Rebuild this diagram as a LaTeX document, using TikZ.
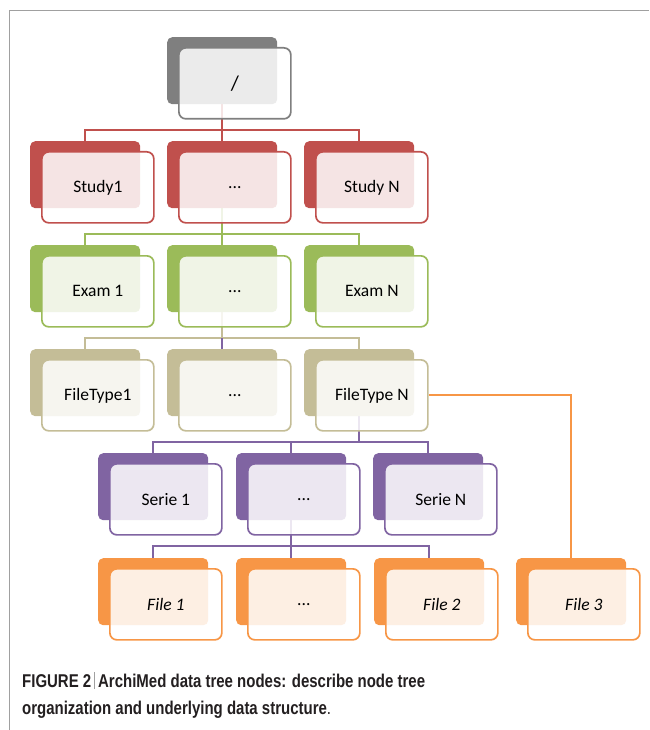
\documentclass[tikz,border=0pt]{standalone}
\usepackage{fontspec}
\setmainfont{Carlito}
\newfontfamily\capfont[FakeStretch=0.81]{Liberation Sans}
\usetikzlibrary{calc,backgrounds}
\definecolor{cgray}{HTML}{7F7F7F}
\definecolor{cred}{HTML}{C0504D}
\definecolor{cgreen}{HTML}{9BBB59}
\definecolor{ctan}{HTML}{C4BD97}
\definecolor{cpurple}{HTML}{8064A2}
\definecolor{corange}{HTML}{F79646}
\definecolor{capcol}{HTML}{231F20}
\definecolor{framecol}{HTML}{A0A0A0}
\tikzset{
  backbox/.style={rectangle, rounded corners=5pt, minimum width=110pt, minimum height=67pt,
    anchor=north west, inner sep=0pt, fill=#1},
  frontbox/.style={rectangle, rounded corners=7pt, minimum width=112pt, minimum height=71pt,
    anchor=north west, inner sep=0pt, draw=#1, line width=1.7pt, fill=white, fill opacity=0.85,
    text opacity=1, font=\fontsize{17.5}{20}\selectfont},
  conn/.style={draw=#1, line width=1.9pt},
  captext/.style={anchor=base west, inner sep=0pt, text=capcol,
    font=\capfont\bfseries\fontsize{18.5}{21}\selectfont},
}
\newcommand\tbox[5]{%
  \node[backbox=#4] (#1b) at (#2,#3) {};
  \node[frontbox=#4] (#1) at (#2+11,#3+10) {#5};
}
\begin{document}
\begin{tikzpicture}[x=1pt,y=-1pt]
\useasboundingbox (0,0) rectangle (649,730);
\draw[framecol, line width=1.5pt] (9.5,730) -- (9.5,10.5) -- (649,10.5);

\tbox{root}{167}{37}{cgray}{\fontsize{21}{24}\selectfont /}

\tbox{s1}{30}{141}{cred}{Study1}
\tbox{s2}{167}{141}{cred}{...}
\tbox{s3}{304}{141}{cred}{Study N}

\tbox{e1}{30}{245}{cgreen}{Exam 1}
\tbox{e2}{167}{245}{cgreen}{...}
\tbox{e3}{304}{245}{cgreen}{Exam N}

\tbox{f1}{30}{349}{ctan}{FileType1}
\tbox{f2}{167}{349}{ctan}{...}
\tbox{f3}{304}{349}{ctan}{FileType N}

\tbox{r1}{98}{453}{cpurple}{Serie 1}
\tbox{r2}{236}{453}{cpurple}{...}
\tbox{r3}{373}{453}{cpurple}{Serie N}

\tbox{g1}{98}{558}{corange}{\textit{File 1}}
\tbox{g2}{236}{558}{corange}{...}
\tbox{g3}{374}{558}{corange}{\textit{File 2}}
\tbox{g4}{516}{558}{corange}{\textit{File 3}}

\begin{pgfonlayer}{background}
\coordinate (j0) at ($(rootb.south |- root.south)+(0,10.5)$);
\draw[conn=cred] (rootb.south) -- (j0) -| (s1b.north);
\draw[conn=cred] (j0) -| (s3b.north);
\draw[conn=cred] (j0) -- (s2b.north);

\coordinate (j1) at ($(s2b.south |- s2.south)+(0,10.5)$);
\draw[conn=cgreen] (s2b.south) -- (j1) -| (e1b.north);
\draw[conn=cgreen] (j1) -| (e3b.north);
\draw[conn=cgreen] (j1) -- (e2b.north);

\coordinate (j2) at ($(e2b.south |- e2.south)+(0,10.5)$);
\draw[conn=ctan] (e2b.south) -- (j2) -| (f1b.north);
\draw[conn=ctan] (j2) -| (f3b.north);
\draw[conn=cpurple] (j2) -- (f2b.north);

\coordinate (j3) at ($(f3b.south |- f3.south)+(0,10.5)$);
\draw[conn=cpurple] (f3b.south) -- (j3) -| (r1b.north);
\draw[conn=cpurple] (j3) -| (r3b.north);
\draw[conn=cpurple] (j3) -| (r2b.north);

\coordinate (j4) at ($(r2b.south |- r2.south)+(0,10.5)$);
\draw[conn=cpurple] (r2b.south) -- (j4) -| (g1b.north);
\draw[conn=cpurple] (j4) -| (g3b.north);
\draw[conn=cpurple] (j4) -- (g2b.north);

\draw[conn=corange] (f3.east) -| (g4b.north);
\end{pgfonlayer}

\node[captext] (cap1) at (22,687) {FIGURE 2\,{\color{framecol}\rule[-2pt]{0.7pt}{17pt}}\,ArchiMed data tree nodes: describe node tree};
\node[captext] (cap2) at (22,714) {organization and underlying data structure\textmd{.}};
\end{tikzpicture}
\end{document}
